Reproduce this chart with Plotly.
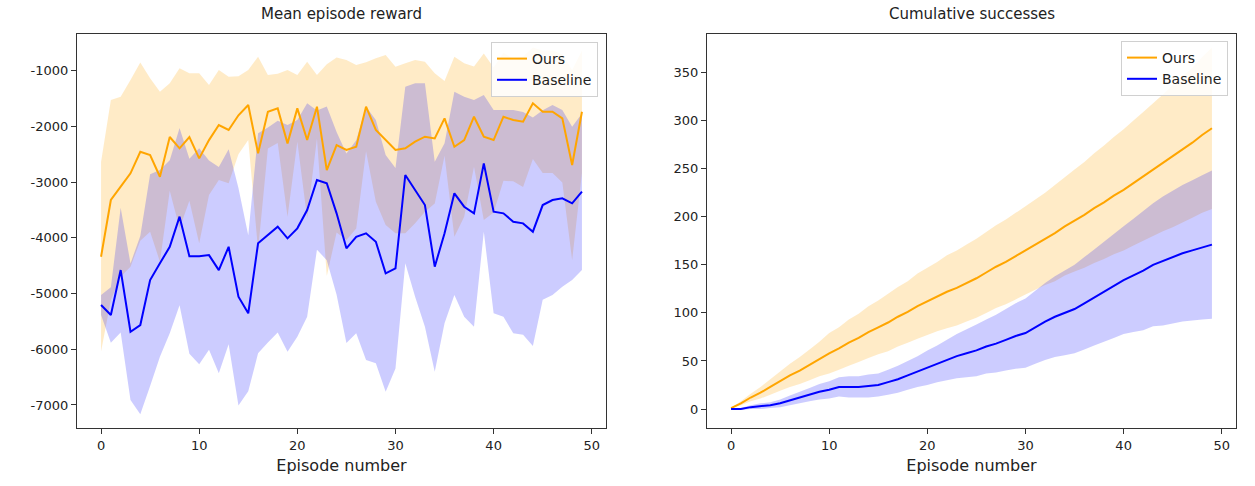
import plotly.graph_objects as go

episodes = list(range(50))

# ---- Mean episode reward (left) ----
ours_reward_mean = [-4339, -3321, -3082, -2842, -2454, -2513, -2903, -2190, -2393, -2190,
                    -2573, -2245, -1975, -2064, -1800, -1616, -2483, -1736, -1676, -2304,
                    -1676, -2244, -1646, -2783, -2334, -2423, -2364, -1646, -2064, -2244,
                    -2423, -2393, -2274, -2185, -2215, -1855, -2364, -2244, -1826, -2185,
                    -2244, -1826, -1885, -1915, -1585, -1736, -1736, -1855, -2693, -1736]
ours_reward_std = [1700, 1795, 1615, 1675, 1600, 1376, 1526, 963, 1436, 1143,
                   1526, 988, 987, 957, 700, 628, 1734, 659, 620, 1316,
                   600, 1406, 570, 1900, 1570, 1615, 1466, 800, 1286, 1526,
                   1495, 1526, 1466, 1347, 1168, 670, 1615, 1377, 900, 1495,
                   1300, 1150, 1100, 1170, 1000, 1100, 1100, 1150, 1705, 1100]
base_reward_mean = [-5206, -5385, -4578, -5685, -5565, -4757, -4457, -4160, -3620, -4330,
                    -4330, -4310, -4580, -4160, -5057, -5355, -4098, -3949, -3800, -4009,
                    -3829, -3500, -2962, -3021, -3560, -4188, -3980, -3919, -4069, -4637,
                    -4547, -2872, -3141, -3411, -4518, -3919, -3201, -3441, -3560, -2663,
                    -3531, -3560, -3710, -3740, -3890, -3411, -3321, -3291, -3381, -3172]
base_reward_std = [180, 500, 1120, 1226, 1600, 1900, 1677, 1554, 1590, 1750,
                   1940, 1700, 1850, 1750, 1950, 1400, 1975, 1930, 1900, 2034,
                   1945, 1915, 1250, 1380, 1460, 1700, 1734, 2274, 2183, 2125,
                   1800, 1585, 1916, 2184, 1885, 1615, 1825, 1975, 2035, 1227,
                   1824, 1855, 2004, 2000, 2050, 1700, 1705, 1586, 1376, 1406]

# ---- Cumulative successes (right) ----
ours_succ_mean = [1, 6, 12, 17, 23, 29, 35, 40, 46, 52,
                  58, 63, 69, 74, 80, 85, 90, 96, 101, 107,
                  112, 117, 122, 126, 131, 136, 142, 148, 153, 159,
                  165, 171, 177, 183, 190, 196, 202, 209, 215, 222,
                  228, 235, 242, 249, 256, 263, 270, 277, 285, 292]
ours_succ_std = [0, 2, 4, 6, 8, 10, 12, 14, 16, 18,
                 21, 22, 24, 25, 27, 28, 30, 31, 32, 34,
                 35, 36, 38, 39, 40, 41, 42, 43, 44, 45,
                 46, 47, 48, 50, 51, 53, 55, 57, 59, 61,
                 63, 65, 67, 69, 71, 74, 76, 78, 81, 84]
base_succ_mean = [0, 0, 2, 3, 4, 6, 9, 12, 15, 18,
                  20, 23, 23, 23, 24, 25, 28, 31, 35, 39,
                  43, 47, 51, 55, 58, 61, 65, 68, 72, 76,
                  79, 85, 91, 96, 100, 104, 110, 116, 122, 128,
                  134, 139, 144, 150, 154, 158, 162, 165, 168, 171]
base_succ_std = [0, 1, 2, 3, 3, 4, 5, 6, 7, 8,
                 9, 10, 11, 11, 12, 12, 13, 14, 15, 16,
                 18, 19, 21, 23, 25, 27, 28, 30, 32, 34,
                 36, 38, 40, 42, 44, 46, 48, 50, 52, 54,
                 56, 59, 62, 64, 67, 69, 71, 73, 75, 77]

x_ticks = [0, 10, 20, 30, 40, 50]
reward_ticks = [-7000, -6000, -5000, -4000, -3000, -2000, -1000]
succ_ticks = [0, 50, 100, 150, 200, 250, 300, 350]

ORANGE = "#FFA500"
BLUE = "#0000FF"
ORANGE_FILL = "rgba(255,165,0,0.22)"
BLUE_FILL = "rgba(0,0,255,0.2)"
FONT = "DejaVu Sans"

fig = go.Figure()


def add_band(x, mean, std, fill, xa, ya):
    up = [m + s for m, s in zip(mean, std)]
    lo = [m - s for m, s in zip(mean, std)]
    fig.add_trace(go.Scatter(x=list(x) + list(x)[::-1], y=up + lo[::-1],
                             fill="toself", fillcolor=fill, mode="none",
                             hoverinfo="skip", showlegend=False,
                             xaxis=xa, yaxis=ya))


def add_line(x, y, color, name, xa, ya, legend):
    fig.add_trace(go.Scatter(x=x, y=y, mode="lines", name=name,
                             line=dict(color=color, width=2),
                             xaxis=xa, yaxis=ya, legend=legend))


# bands first, lines on top
add_band(episodes, ours_reward_mean, ours_reward_std, ORANGE_FILL, "x", "y")
add_band(episodes, base_reward_mean, base_reward_std, BLUE_FILL, "x", "y")
add_band(episodes, ours_succ_mean, ours_succ_std, ORANGE_FILL, "x2", "y2")
add_band(episodes, base_succ_mean, base_succ_std, BLUE_FILL, "x2", "y2")

add_line(episodes, ours_reward_mean, ORANGE, "Ours", "x", "y", "legend")
add_line(episodes, base_reward_mean, BLUE, "Baseline", "x", "y", "legend")
add_line(episodes, ours_succ_mean, ORANGE, "Ours", "x2", "y2", "legend2")
add_line(episodes, base_succ_mean, BLUE, "Baseline", "x2", "y2", "legend2")

W, H = 1255, 486
axis_common = dict(showline=True, linecolor="#333333", linewidth=1.2, mirror=True,
                   ticks="outside", ticklen=5, tickwidth=1.2, tickcolor="#333333",
                   showgrid=False, zeroline=False, automargin=False,
                   tickfont=dict(family=FONT, size=13, color="#222222"))

xdom1 = [77 / W, 606 / W]
xdom2 = [707 / W, 1236 / W]
ydom = [1 - 428 / H, 1 - 34 / H]

legend_common = dict(xanchor="right", yanchor="top",
                     bgcolor="rgba(255,255,255,0.85)", bordercolor="#d0d0d0", borderwidth=1,
                     font=dict(family=FONT, size=14, color="#222222"),
                     tracegroupgap=0, itemwidth=30)

fig.update_layout(
    width=W, height=H,
    margin=dict(l=0, r=0, t=0, b=0),
    paper_bgcolor="white", plot_bgcolor="white",
    font=dict(family=FONT, color="#222222"),
    xaxis=dict(domain=xdom1, range=[-2.45, 51.45], tickvals=x_ticks,
               title=dict(text="Episode number", font=dict(size=16, family=FONT), standoff=8),
               anchor="y", **axis_common),
    yaxis=dict(domain=ydom, range=[-7413, -341], tickvals=reward_ticks,
               ticktext=[str(v) for v in reward_ticks], anchor="x", **axis_common),
    xaxis2=dict(domain=xdom2, range=[-2.45, 51.45], tickvals=x_ticks,
                title=dict(text="Episode number", font=dict(size=16, family=FONT), standoff=8),
                anchor="y2", **axis_common),
    yaxis2=dict(domain=ydom, range=[-19.7, 390], tickvals=succ_ticks,
                ticktext=[str(v) for v in succ_ticks], anchor="x2", **axis_common),
    legend=dict(x=598 / W, y=1 - 42 / H, **legend_common),
    legend2=dict(x=1228 / W, y=1 - 41 / H, **legend_common),
    annotations=[
        dict(text="Mean episode reward", x=(xdom1[0] + xdom1[1]) / 2, y=1 - 14 / H,
             xref="paper", yref="paper", showarrow=False, xanchor="center", yanchor="middle",
             font=dict(family=FONT, size=15, color="#222222")),
        dict(text="Cumulative successes", x=(xdom2[0] + xdom2[1]) / 2, y=1 - 14 / H,
             xref="paper", yref="paper", showarrow=False, xanchor="center", yanchor="middle",
             font=dict(family=FONT, size=15, color="#222222")),
    ],
)

fig.write_html("out.html")
